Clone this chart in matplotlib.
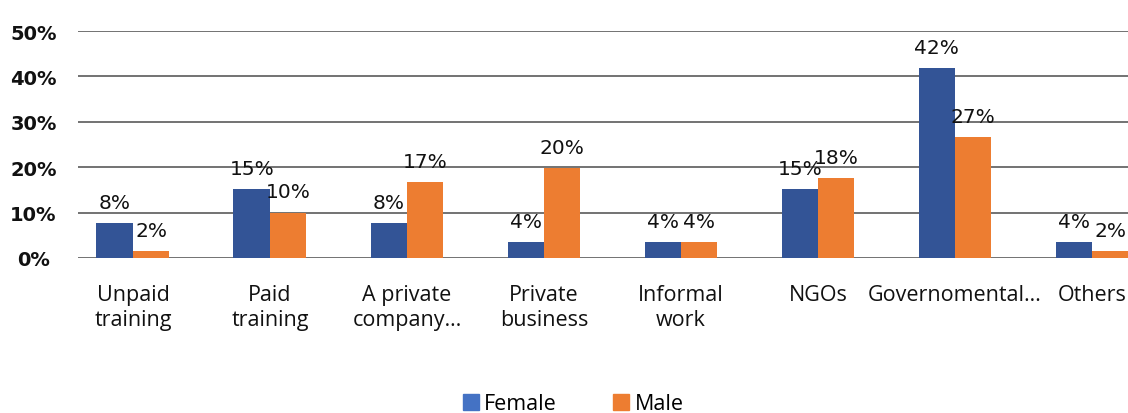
import matplotlib.pyplot as plt
from matplotlib.patches import Patch
import numpy as np

# survey shares (%) by category
categories = ["Unpaid\ntraining", "Paid\ntraining", "A private\ncompany…", "Private\nbusiness",
              "Informal\nwork", "NGOs", "Governomental…", "Others"]
female = [7.6, 15.2, 7.6, 3.6, 3.6, 15.2, 41.9, 3.6]
male = [1.6, 10.0, 16.7, 19.8, 3.6, 17.6, 26.7, 1.6]
yticks = [0, 10, 20, 30, 40, 50]

BLUE = "#335496"
ORANGE = "#ED7D31"

W, H = 1128, 414
fig = plt.figure(figsize=(W / 100, H / 100), dpi=100)
ax = fig.add_axes([78 / W, (H - 259) / H, (W - 78) / W, (259 - 32) / H])

x = np.arange(len(categories))
bw = 0.266
bf = ax.bar(x - bw / 2, female, bw, color=BLUE, zorder=3)
bm = ax.bar(x + bw / 2, male, bw, color=ORANGE, zorder=3)

for bars, vals in ((bf, female), (bm, male)):
    for b, v in zip(bars, vals):
        ax.annotate(f"{v:.0f}%", (b.get_x() + b.get_width() / 2, v),
                    xytext=(0, 8), textcoords="offset points",
                    ha="center", va="bottom", fontsize=14.5,
                    family="DejaVu Sans", color="#111111")

ax.set_xlim(-0.401, 7.263)
ax.set_ylim(0, 50)
ax.set_yticks(yticks)
ax.set_yticklabels([f"{t}%" for t in yticks], fontsize=14, fontweight="bold",
                   family="DejaVu Sans", color="#111111")
for lab in ax.get_yticklabels():
    lab.set_ha("center")
ax.tick_params(axis="y", length=0, pad=32)

ax.set_xticks(x)
ax.set_xticklabels(categories, fontsize=15.5, family="Open Sans", color="#111111",
                   linespacing=1.25)
ax.tick_params(axis="x", length=0, pad=19)

ax.grid(axis="y", color="#5a5a5a", linewidth=1.2, zorder=0)
for s in ax.spines.values():
    s.set_visible(False)

handles = [Patch(color="#4472C4", label="Female"), Patch(color=ORANGE, label="Male")]
fig.legend(handles=handles, loc="center", bbox_to_anchor=(573 / W, (H - 405) / H),
           ncol=2, frameon=False, prop={"family": "Open Sans", "size": 15.5},
           handlelength=0.75, handleheight=0.75, handletextpad=0.25, columnspacing=2.6)

fig.savefig("out.png", dpi=100)
